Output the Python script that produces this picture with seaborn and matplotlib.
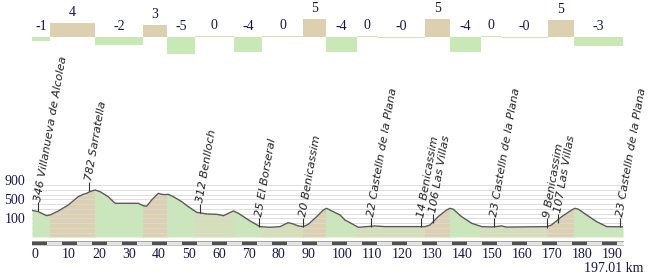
import numpy as np
import matplotlib
matplotlib.use("Agg")
import matplotlib.pyplot as plt
import matplotlib.transforms as mtransforms
from matplotlib.patches import Rectangle
import seaborn as sns

# ---------------- data ----------------
dist_km = [0, 2.1, 4.9, 6, 8.8, 12.1, 15.4, 17.1, 18.2, 19.3, 21, 22.7, 25.4, 27.7, 31,
           35.4, 37.1, 38.2, 39.9, 42.1, 43.2, 44.3, 45.4, 47.1, 49.9, 52.1, 54.9, 58.2,
           61.6, 63.8, 67.1, 68.8, 72.7, 76, 79.3, 82.7, 85.4, 87.1, 88.8, 90.4, 92.1,
           94.9, 97.1, 98.2, 100.4, 102.7, 104.3, 108.8, 114.3, 117.6, 131, 132.7, 135.4,
           138.2, 139.3, 140.4, 143.2, 146.6, 149.9, 153.2, 156.6, 158.2, 171.6, 173.2,
           176.6, 179.9, 181, 182.1, 184.9, 188.2, 191.6, 197.01]
elev_m = [370, 342, 258, 273, 357, 483, 658, 707, 728, 763, 798, 763, 658, 518, 518,
          518, 468, 455, 588, 728, 707, 700, 707, 658, 553, 448, 329, 294,
          287, 258, 357, 308, 147, 28, 14, 28, 112, 84, 42, 28, 77,
          238, 378, 413, 343, 273, 168, 14, 42, 28, 28, 63, 238,
          378, 413, 395, 238, 98, 28, 20, 42, 18, 28, 63,
          238, 378, 413, 395, 273, 133, 28, 23]

seg_start = [0, 6, 21, 37, 45, 54.3, 67.3, 76.7, 90.3, 98, 108.3, 115, 131, 139.3,
             149.7, 156.3, 172, 180.7]
seg_end = seg_start[1:] + [197.0]
seg_grade = [-1.1, 3.8, -2.2, 3.4, -4.6, 0.3, -4.2, 0.3, 4.9, -4.2, 0.3, -0.3, 5.0,
             -4.3, 0.3, -0.3, 4.8, -2.6]

wp_km = [2, 19, 56, 75.7, 90.4, 113, 129.7, 133.7, 153.9, 171.7, 175.3, 196]
wp_elev = [346, 782, 312, 25, 20, 22, 14, 106, 23, 9, 107, 23]
wp_name = ["Villanueva de Alcolea", "Sarratella", "Benlloch", "El Borseral",
           "Benicassim", "Castelln de la Plana", "Benicassim", "Las Villas",
           "Castelln de la Plana", "Benicassim", "Las Villas", "Castelln de la Plana"]

total_km = 197.01
elev_ticks = [100, 500, 900]
km_ticks = list(range(0, 200, 10))

# ---------------- style ----------------
sns.set_theme(style="white")
plt.rcParams["font.family"] = ["Liberation Serif", "DejaVu Serif"]
TXT = "#15154a"
TAN = "#ddd0b0"
GREEN = "#c8e9b5"
FLAT = "#d5dfb6"


def seg_color(g):
    if g >= 0.5:
        return TAN
    if g <= -0.5:
        return GREEN
    return FLAT


W, H = 650, 275
fig = plt.figure(figsize=(W / 100, H / 100), dpi=100)


def rect(y0, y1):
    return [32 / W, 1 - y1 / H, 591 / W, (y1 - y0) / H]


ax_top = fig.add_axes(rect(0, 60))
ax = fig.add_axes(rect(178, 237))
ax_s = fig.add_axes(rect(241, 245))

for a in (ax_top, ax, ax_s):
    a.set_xlim(0, total_km)
    for sp in a.spines.values():
        sp.set_visible(False)
    a.set_facecolor("none")

# ---------------- gradient bars (top) ----------------
widths = np.array(seg_end) - np.array(seg_start)
colors = [seg_color(g) for g in seg_grade]
ax_top.bar(seg_start, seg_grade, width=widths, align="edge", color=colors, lw=0)
ax_top.set_ylim(-6.39, 10.28)
ax_top.set_xticks([])
ax_top.set_yticks([])
for s, w, g in zip(seg_start, widths, seg_grade):
    ax_top.annotate(f"{g:.0f}", xy=(s + w / 2, max(g, 0)), xytext=(0, 7.5),
                    textcoords="offset points", ha="center", va="center",
                    fontsize=10, color=TXT)

# ---------------- elevation profile ----------------
ymin, ymax = -190, 1050
ax.set_ylim(ymin, ymax)
for s, e, g in zip(seg_start, seg_end, seg_grade):
    poly = ax.fill_between(dist_km, elev_m, ymin, color=seg_color(g), lw=0, zorder=1)
    clip = Rectangle((s, ymin), e - s, ymax - ymin, transform=ax.transData)
    poly.set_clip_path(clip)

sns.lineplot(x=dist_km, y=elev_m, ax=ax, color="#5a5a5a", lw=1.0, zorder=3,
             sort=False, estimator=None)

ax.set_yticks(elev_ticks)
ax.set_yticks(np.arange(-100, 1000, 100), minor=True)
ax.grid(which="both", axis="y", color="#dadada", lw=0.7, alpha=0.9)
ax.set_axisbelow(False)
ax.set_xticks([])
ax.tick_params(axis="y", which="both", length=0, pad=5, labelsize=10, labelcolor=TXT)
offset = mtransforms.ScaledTranslation(0, 0.05, fig.dpi_scale_trans)
for lbl in ax.get_yticklabels():
    lbl.set_transform(lbl.get_transform() + offset)

# waypoint markers and labels
ax.vlines(wp_km, wp_elev, np.array(wp_elev) + 190, color="#333333", lw=0.8, zorder=4)
for k, e, n in zip(wp_km, wp_elev, wp_name):
    ax.text(k, e + 215, f"{e} {n}", rotation=80, rotation_mode="anchor",
            ha="left", va="center", fontsize=8.2, family="DejaVu Sans",
            style="italic", color="#222222", clip_on=False, zorder=5)

# ---------------- km strip ----------------
ax_s.set_facecolor("#e4e4e4")
ax_s.bar(np.arange(0, 195, 10), 1, width=5, align="edge", color="#505050", lw=0)
ax_s.set_ylim(0, 1)
ax_s.set_yticks([])
ax_s.set_xticks(km_ticks)
ax_s.set_xticklabels([str(t) for t in km_ticks], ha="left")
ax_s.tick_params(axis="x", length=0, pad=2, labelsize=10, labelcolor=TXT)
ax_s.spines["top"].set_visible(True)
ax_s.spines["bottom"].set_visible(True)
ax_s.spines["top"].set_color("#999999")
ax_s.spines["bottom"].set_color("#bbbbbb")
ax_s.spines["top"].set_linewidth(0.6)
ax_s.spines["bottom"].set_linewidth(0.6)

fig.text(643 / W, 1 - 268.5 / H, f"{total_km:.2f} km", ha="right", va="center",
         fontsize=10, color=TXT)

fig.savefig("out.png", dpi=100)
